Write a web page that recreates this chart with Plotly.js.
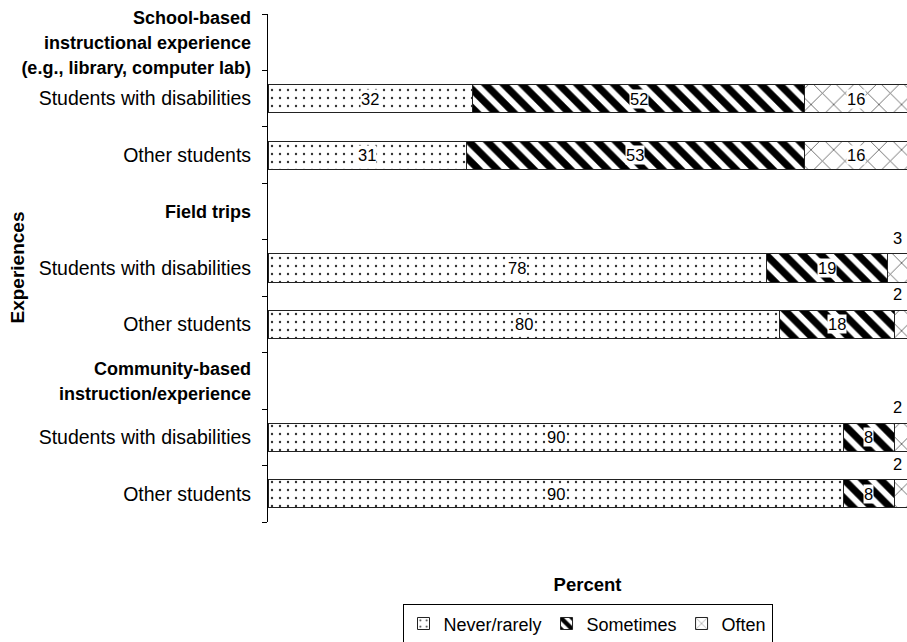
<!DOCTYPE html>
<html>
<head>
<meta charset="utf-8">
<script src="https://cdn.plot.ly/plotly-3.0.1.min.js"></script>
<style>html,body{margin:0;padding:0;background:#fff;}#chart{width:907px;height:642px;}</style>
</head>
<body>
<div id="chart"></div>
<script>
// ---- data ----
const groups = [
  ['School-based', 'instructional experience', '(e.g., library, computer lab)'],
  ['Field trips'],
  ['Community-based', 'instruction/experience']
];
const subgroups = ['Students with disabilities', 'Other students'];
const seriesNames = ['Never/rarely', 'Sometimes', 'Often'];
const never = [32, 31, 78, 80, 90, 90];
const sometimes = [52, 53, 19, 18, 8, 8];
const often = [16, 16, 3, 2, 2, 2];

// ---- build rows ----
const rowLabels = [];
const barRowIdx = [];
groups.forEach(g => {
  rowLabels.push(g.map(l => '<span style="font-size:18px"><b>' + l + '</b></span>').join('<br>'));
  subgroups.forEach(s => { barRowIdx.push(rowLabels.length); rowLabels.push(s); });
});
const rowPos = rowLabels.map((_, i) => i);

const FONT = 'Liberation Sans, Arial, sans-serif';
const patterns = [
  {shape: '.', fgcolor: '#333', bgcolor: '#fff', size: 8, solidity: 0.07, fillmode: 'replace'},
  {shape: '\\', fgcolor: '#000', bgcolor: '#fff', size: 13, solidity: 0.55, fillmode: 'replace'},
  {shape: 'x', fgcolor: '#555', bgcolor: '#fff', size: 16, solidity: 0.1, fillmode: 'replace'}
];
const allSeries = [never, sometimes, often];

const traces = allSeries.map((vals, k) => ({
  type: 'bar',
  orientation: 'h',
  name: seriesNames[k],
  x: vals,
  y: barRowIdx,
  width: 0.5,
  marker: {color: '#fff', pattern: patterns[k], line: {color: '#222', width: 1}},
  hoverinfo: 'x+name'
}));

// value labels
const annotations = [];
barRowIdx.forEach((row, i) => {
  let cum = 0;
  allSeries.forEach(vals => {
    const v = vals[i];
    if (v >= 5) {
      annotations.push({x: cum + v / 2, y: row, xref: 'x', yref: 'y', text: String(v),
        showarrow: false, bgcolor: '#fff', borderpad: 0, font: {family: FONT, size: 16.5, color: '#000'}});
    } else {
      annotations.push({x: cum + v, y: row, xref: 'x', yref: 'y', text: String(v),
        xanchor: 'right', xshift: -3, yshift: 30,
        showarrow: false, font: {family: FONT, size: 16.5, color: '#000'}});
    }
    cum += v;
  });
});
annotations.push({x: 0, xref: 'paper', xanchor: 'left', xshift: -268 + 4, y: 0.5, yref: 'paper',
  text: '<b>Experiences</b>', textangle: -90, showarrow: false,
  font: {family: FONT, size: 19, color: '#000'}});

const layout = {
  width: 907, height: 642,
  margin: {l: 268, r: 0, t: 14, b: 120, autoexpand: false},
  paper_bgcolor: '#fff', plot_bgcolor: '#fff',
  font: {family: FONT, size: 19, color: '#000'},
  barmode: 'stack',
  showlegend: true,
  legend: {orientation: 'h', x: 0.5, xanchor: 'center', y: -0.162, yanchor: 'top',
    traceorder: 'normal', bordercolor: '#000', borderwidth: 1, itemwidth: 30,
    font: {family: FONT, size: 18, color: '#000'}},
  xaxis: {range: [0, 100], showticklabels: false, showline: false, showgrid: false,
    zeroline: false, ticks: '', fixedrange: true, automargin: false,
    title: {text: '<b>Percent</b>', standoff: 56, font: {family: FONT, size: 18.5, color: '#000'}}},
  yaxis: {range: [8.5, -0.5], tickmode: 'array', tickvals: rowPos, ticktext: rowLabels,
    ticks: '', ticklabelstandoff: 12, showline: true, linecolor: '#000', linewidth: 1,
    showgrid: false, zeroline: false, automargin: false, fixedrange: true,
    tickfont: {family: FONT, size: 19.5, color: '#000'},
    minor: {tickmode: 'linear', tick0: -0.5, dtick: 1, ticks: 'outside', ticklen: 5,
      tickcolor: '#000', tickwidth: 1, showgrid: false}},
  annotations: annotations
};

Plotly.newPlot('chart', traces, layout, {displayModeBar: false, staticPlot: true});
</script>
</body>
</html>
